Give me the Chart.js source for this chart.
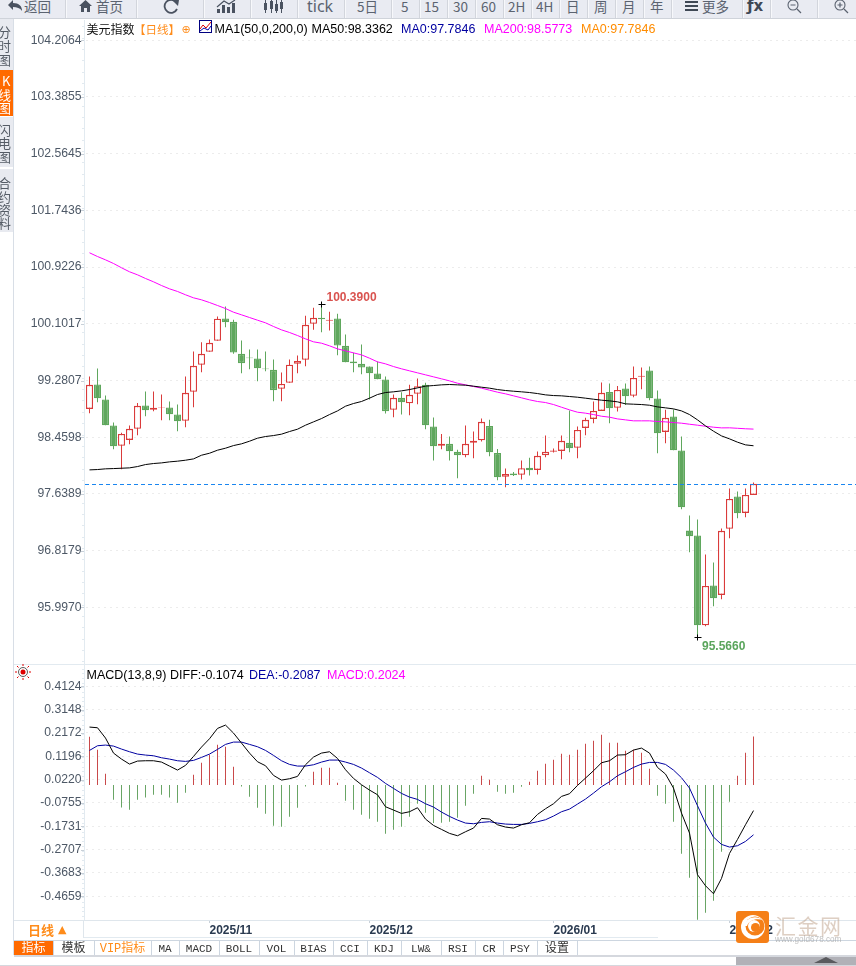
<!DOCTYPE html>
<html>
<head>
<meta charset="utf-8">
<title>美元指数</title>
<script src="https://cdn.jsdelivr.net/npm/chart.js@4"></script>
<style>
html, body { margin: 0; padding: 0; width: 856px; height: 966px; overflow: hidden; background: #fff; }
body { position: relative; font-family: "Liberation Sans", "Noto Sans CJK SC", sans-serif; }
canvas { position: absolute; left: 0; }
.txt { position: absolute; white-space: nowrap; }
.box { position: absolute; }
</style>
</head>
<body>
<canvas id="price" width="862" height="664" style="top:0;width:862px;height:664px"></canvas>
<canvas id="macd" width="862" height="274" style="top:664px;width:862px;height:274px"></canvas>
<div id="ui"></div>
<script>
// ---- data ----
var openPrices = [98.870,99.223,99.006,98.629,98.335,98.421,98.581,98.919,98.856,98.890,98.890,98.788,98.697,99.117,99.508,99.696,99.855,100.179,100.130,99.667,99.614,99.599,99.454,99.435,99.160,99.247,99.522,99.580,100.101,100.188,100.145,100.179,99.783,99.556,99.522,99.483,99.382,99.295,98.856,99.030,98.952,99.088,99.218,98.615,98.335,98.364,98.248,98.199,98.378,98.417,98.624,98.233,97.886,97.934,97.915,98.016,97.987,98.199,98.248,98.262,98.378,98.306,98.595,98.725,98.841,99.116,98.885,99.165,99.059,99.334,99.425,99.020,98.537,98.759,98.267,97.108,97.036,95.738,96.312,96.177,97.133,97.601,97.364,97.625];
var closePrices = [99.218,99.025,98.634,98.330,98.508,98.581,98.914,98.851,98.885,98.899,98.793,98.692,99.102,99.493,99.667,99.826,100.174,100.125,99.686,99.532,99.604,99.459,99.445,99.141,99.232,99.508,99.565,100.087,100.188,100.169,100.159,99.787,99.546,99.532,99.469,99.387,99.300,98.837,99.030,98.967,99.073,99.199,98.634,98.330,98.364,98.257,98.199,98.364,98.407,98.682,98.243,97.881,97.929,97.910,98.011,97.982,98.190,98.248,98.267,98.407,98.301,98.566,98.711,98.841,99.102,98.880,99.145,99.054,99.319,99.348,99.025,98.518,98.740,98.272,97.446,97.026,95.738,96.307,96.129,97.104,97.567,97.359,97.625,97.7846];
var highPrices = [99.339,99.454,99.063,98.672,98.523,98.629,98.957,99.121,99.121,99.078,98.977,98.933,99.339,99.701,99.836,99.874,100.207,100.352,100.159,99.860,99.730,99.730,99.701,99.585,99.397,99.585,99.643,100.217,100.333,100.390,100.275,100.246,99.947,99.681,99.802,99.483,99.556,99.339,99.078,99.112,99.218,99.310,99.247,98.745,98.508,98.470,98.277,98.629,98.542,98.730,98.711,98.291,98.006,97.958,98.122,98.161,98.253,98.484,98.296,98.484,98.846,98.614,98.740,98.976,99.252,99.237,99.203,99.237,99.483,99.469,99.483,99.136,98.856,98.861,98.470,97.326,97.268,96.761,96.645,97.137,97.717,97.673,97.717,97.804];
var lowPrices = [98.808,98.967,98.634,98.286,97.997,98.359,98.489,98.764,98.837,98.706,98.706,98.547,98.605,98.895,99.401,99.696,99.855,100.053,99.667,99.387,99.445,99.271,99.416,98.981,98.981,99.247,99.387,99.488,100.014,99.981,100.005,99.648,99.546,99.401,99.372,99.006,99.300,98.803,98.750,98.788,98.779,98.938,98.576,98.122,98.286,98.122,97.866,98.170,98.156,98.397,98.185,97.837,97.736,97.900,97.847,97.905,97.919,98.170,98.238,98.141,98.243,98.156,98.489,98.663,98.841,98.663,98.832,98.928,99.039,99.155,98.996,98.228,98.373,98.272,97.417,96.795,95.566,95.723,96.013,96.114,96.997,97.287,97.301,97.625];
var ma50 = [97.987,97.992,98.002,98.006,98.011,98.016,98.035,98.064,98.079,98.088,98.103,98.113,98.127,98.146,98.199,98.228,98.272,98.301,98.339,98.364,98.402,98.446,98.470,98.484,98.504,98.542,98.576,98.634,98.682,98.730,98.788,98.841,98.909,98.948,98.977,99.025,99.078,99.107,99.117,99.131,99.150,99.174,99.199,99.208,99.218,99.223,99.218,99.213,99.199,99.184,99.170,99.150,99.136,99.126,99.117,99.107,99.092,99.073,99.063,99.059,99.049,99.039,99.025,99.010,98.996,98.986,98.972,98.943,98.938,98.933,98.923,98.899,98.885,98.870,98.841,98.788,98.711,98.624,98.547,98.479,98.436,98.388,98.349,98.3362];
var ma200 = [101.130,101.076,101.028,100.975,100.913,100.855,100.811,100.758,100.710,100.656,100.608,100.570,100.522,100.478,100.449,100.410,100.367,100.323,100.270,100.232,100.193,100.154,100.116,100.063,100.014,99.976,99.932,99.884,99.841,99.821,99.783,99.739,99.710,99.681,99.652,99.604,99.551,99.522,99.483,99.450,99.421,99.392,99.363,99.334,99.305,99.276,99.242,99.218,99.194,99.170,99.141,99.112,99.088,99.059,99.030,99.001,98.977,98.962,98.933,98.894,98.856,98.822,98.808,98.788,98.764,98.750,98.725,98.711,98.697,98.697,98.697,98.687,98.682,98.672,98.663,98.648,98.634,98.619,98.605,98.595,98.596,98.589,98.582,98.5773];
var diffValues = [0.2419,0.2391,0.1959,0.1331,0.1080,0.0871,0.0997,0.1011,0.1011,0.0955,0.0788,0.0620,0.0816,0.1192,0.1582,0.1931,0.2363,0.2502,0.2168,0.1749,0.1331,0.0969,0.0802,0.0397,0.0202,0.0258,0.0355,0.0843,0.1164,0.1331,0.1387,0.1108,0.0634,0.0272,0.0007,-0.0216,-0.0411,-0.0913,-0.1052,-0.1192,-0.1122,-0.0955,-0.1429,-0.1694,-0.1861,-0.2028,-0.2126,-0.1959,-0.1805,-0.1401,-0.1429,-0.1666,-0.1763,-0.1805,-0.1666,-0.1582,-0.1234,-0.0997,-0.0788,-0.0481,-0.0369,-0.0021,0.0286,0.0592,0.0927,0.1011,0.1248,0.1262,0.1457,0.1540,0.1331,0.0732,0.0453,-0.0132,-0.1178,-0.2014,-0.3757,-0.4217,-0.4552,-0.3910,-0.2865,-0.2279,-0.1666,-0.1074];
var deaValues = [0.1443,0.1638,0.1666,0.1624,0.1499,0.1387,0.1289,0.1248,0.1220,0.1136,0.1080,0.1011,0.0983,0.1025,0.1150,0.1289,0.1485,0.1694,0.1791,0.1791,0.1694,0.1596,0.1443,0.1234,0.1011,0.0857,0.0788,0.0788,0.0843,0.0955,0.1039,0.1039,0.0955,0.0857,0.0704,0.0509,0.0314,0.0063,-0.0146,-0.0355,-0.0509,-0.0606,-0.0788,-0.0927,-0.1136,-0.1317,-0.1471,-0.1596,-0.1624,-0.1568,-0.1540,-0.1596,-0.1638,-0.1652,-0.1652,-0.1610,-0.1540,-0.1457,-0.1303,-0.1122,-0.1011,-0.0802,-0.0592,-0.0342,-0.0077,0.0132,0.0383,0.0551,0.0732,0.0871,0.0941,0.0941,0.0857,0.0620,0.0300,-0.0132,-0.0871,-0.1596,-0.2182,-0.2488,-0.2600,-0.2544,-0.2363,-0.2087];
var macdBars = [0.2014,0.1471,0.0467,-0.0620,-0.0941,-0.1039,-0.0620,-0.0523,-0.0411,-0.0411,-0.0523,-0.0746,-0.0328,0.0425,0.0927,0.1262,0.1680,0.1596,0.0760,-0.0063,-0.0495,-0.0955,-0.1206,-0.1708,-0.1749,-0.1331,-0.0955,-0.0063,0.0551,0.0718,0.0718,0.0091,-0.0662,-0.1039,-0.1248,-0.1415,-0.1540,-0.2042,-0.1875,-0.1749,-0.1331,-0.0788,-0.1164,-0.1596,-0.1582,-0.1540,-0.1373,-0.0871,-0.0369,0.0383,0.0216,-0.0286,-0.0369,-0.0328,-0.0077,0.0132,0.0592,0.0885,0.1052,0.1303,0.1262,0.1471,0.1722,0.1847,0.2098,0.1763,0.1763,0.1429,0.1471,0.1345,0.0676,-0.0453,-0.0788,-0.1540,-0.2879,-0.3882,-0.5639,-0.5346,-0.4844,-0.2795,-0.0704,0.0383,0.1345,0.2024];

var priceTicks = [104.2064,103.3855,102.5645,101.7436,100.9226,100.1017,99.2807,98.4598,97.6389,96.8179,95.9970];
var macdTicks = [0.4124,0.3148,0.2172,0.1196,0.0220,-0.0755,-0.1731,-0.2707,-0.3683,-0.4659];
var monthLabels = ['2025/11','2025/12','2026/01','2026/02'];
var monthIndex = [15,35,58,80];
var lastPrice = 97.7846;
var highIndex = 29, highValue = 100.39;
var lowIndex = 76, lowValue = 95.566;

// ---- colours ----
var RED = '#da3b3b';
var GREEN = '#5fa75d';
var AXIS_TEXT = '#4d5866';
var GRID = '#ececec';

// blank slots on the right so each candle gets an 8px slot
var categories = [];
for (var i = 0; i < 97; i++) categories.push(i < openPrices.length ? String(i) : '');

var wickData = [], bodyData = [], wickColors = [], bodyFill = [], bodyBorder = [];
openPrices.forEach(function (o, i) {
    var up = closePrices[i] >= o;
    wickData.push([lowPrices[i], highPrices[i]]);
    bodyData.push([o, closePrices[i]]);
    wickColors.push(up ? RED : GREEN);
    bodyFill.push(up ? '#ffffff' : GREEN);
    bodyBorder.push(up ? RED : GREEN);
});

var histData = macdBars.map(function (v) { return [0, v]; });
var histColors = macdBars.map(function (v) { return v >= 0 ? '#c9494a' : '#69a565'; });

function yAxis(min, max, ticks) {
    return {
        min: min,
        max: max,
        afterBuildTicks: function (scale) {
            scale.ticks = ticks.map(function (v) { return { value: v }; });
        },
        afterFit: function (scale) {
            scale.width = 85.5;
            scale.paddingTop = 0;
            scale.paddingBottom = 0;
        },
        border: { display: false, dash: [2, 4] },
        grid: { color: GRID, drawTicks: false },
        ticks: {
            color: AXIS_TEXT,
            padding: 4,
            autoSkip: false,
            font: { family: '"Liberation Sans"', size: 12.2 },
            callback: function (v) { return v.toFixed(4); }
        }
    };
}

// axis line and the little ticks along it
function drawAxisDecor(chart, ticks) {
    var ctx = chart.ctx, area = chart.chartArea, s = chart.scales.y;
    ctx.save();
    ctx.fillStyle = '#e2eaf0';
    ctx.fillRect(84, area.top, 1, area.bottom - area.top);
    var step = s.getPixelForValue(ticks[1]) - s.getPixelForValue(ticks[0]);
    for (var y = s.getPixelForValue(ticks[0]) % (step / 5) + area.top; y < area.bottom; y += step / 5) {
        ctx.fillRect(82, Math.round(y), 2, 1);
    }
    ctx.fillStyle = '#c8d0d8';
    ticks.forEach(function (v) {
        ctx.fillRect(81, Math.round(s.getPixelForValue(v)), 3, 1);
    });
    ctx.restore();
}

var priceDecor = {
    id: 'priceDecor',
    afterDatasetsDraw: function (chart) {
        var ctx = chart.ctx, x = chart.scales.x, y = chart.scales.y;
        drawAxisDecor(chart, priceTicks);
        ctx.save();
        // last price line
        ctx.strokeStyle = '#1a86f0';
        ctx.lineWidth = 1;
        ctx.setLineDash([4, 3]);
        var py = Math.round(y.getPixelForValue(lastPrice)) + 0.5;
        ctx.beginPath();
        ctx.moveTo(85, py);
        ctx.lineTo(856, py);
        ctx.stroke();
        ctx.setLineDash([]);
        // peak markers
        ctx.strokeStyle = '#000';
        [[highIndex, highValue], [lowIndex, lowValue]].forEach(function (m) {
            var mx = Math.floor(x.getPixelForValue(m[0])) + 0.5;
            var my = Math.round(y.getPixelForValue(m[1])) + 0.5;
            ctx.beginPath();
            ctx.moveTo(mx - 3, my);
            ctx.lineTo(mx + 4, my);
            ctx.moveTo(mx, my - 3);
            ctx.lineTo(mx, my + 3);
            ctx.stroke();
        });
        ctx.font = 'bold 12px "Liberation Sans"';
        ctx.textBaseline = 'middle';
        ctx.fillStyle = '#d9534f';
        ctx.fillText(highValue.toFixed(4), x.getPixelForValue(highIndex) + 5, y.getPixelForValue(highValue) - 6);
        ctx.fillStyle = '#5aa55c';
        ctx.fillText(lowValue.toFixed(4), x.getPixelForValue(lowIndex) + 4.5, y.getPixelForValue(lowValue) + 10);
        ctx.restore();
    }
};

var priceChart = new Chart(document.getElementById('price'), {
    type: 'bar',
    data: {
        labels: categories,
        datasets: [
            { type: 'line', data: ma50, borderColor: '#000000', borderWidth: 1, pointRadius: 0, tension: 0, order: 1 },
            { type: 'line', data: ma200, borderColor: '#ff00ff', borderWidth: 1, pointRadius: 0, tension: 0, order: 2 },
            { data: bodyData, backgroundColor: bodyFill, borderColor: bodyBorder, borderWidth: 1.3, borderSkipped: false, barThickness: 7, grouped: false, inflateAmount: 0, order: 3 },
            { data: wickData, backgroundColor: wickColors, barThickness: 1, grouped: false, inflateAmount: 0, order: 4 }
        ]
    },
    options: {
        responsive: false,
        devicePixelRatio: 1,
        animation: false,
        events: [],
        layout: { padding: { top: 20, right: 0.5 } },
        plugins: { legend: { display: false }, tooltip: { enabled: false } },
        scales: {
            x: { display: false, offset: true },
            y: yAxis(95.1765, 104.5003, priceTicks)
        }
    },
    plugins: [priceDecor]
});

var macdDecor = {
    id: 'macdDecor',
    afterDatasetsDraw: function (chart) {
        drawAxisDecor(chart, macdTicks);
    }
};

var macdChart = new Chart(document.getElementById('macd'), {
    type: 'bar',
    data: {
        labels: categories,
        datasets: [
            { type: 'line', data: diffValues, borderColor: '#000000', borderWidth: 1, pointRadius: 0, tension: 0, order: 1 },
            { type: 'line', data: deaValues, borderColor: '#0000a0', borderWidth: 1, pointRadius: 0, tension: 0, order: 2 },
            { data: histData, backgroundColor: histColors, barThickness: 1, grouped: false, inflateAmount: 0, order: 3 }
        ]
    },
    options: {
        responsive: false,
        devicePixelRatio: 1,
        animation: false,
        events: [],
        layout: { padding: { top: 1, right: 0.5 } },
        plugins: { legend: { display: false }, tooltip: { enabled: false } },
        scales: {
            x: {
                offset: true,
                afterBuildTicks: function (scale) {
                    scale.ticks = monthIndex.map(function (v) { return { value: v }; });
                },
                afterFit: function (scale) {
                    scale.height = 18;
                    scale.paddingLeft = 0;
                    scale.paddingRight = 0;
                },
                border: { display: false },
                grid: { drawOnChartArea: false, offset: false, tickLength: 3, color: '#c8d0d8' },
                ticks: {
                    autoSkip: false,
                    maxRotation: 0,
                    align: 'start',
                    padding: 0,
                    color: '#2a3a50',
                    font: { family: '"Liberation Sans"', size: 12, weight: 'bold' },
                    callback: function (v, idx) { return monthLabels[idx]; }
                }
            },
            y: yAxis(-0.5650, 0.5015, macdTicks)
        }
    },
    plugins: [macdDecor]
});

// ---- page chrome around the charts ----
var ui = document.getElementById('ui');

function addBox(x, y, w, h, color) {
    var d = document.createElement('div');
    d.className = 'box';
    d.style.cssText = 'left:' + x + 'px;top:' + y + 'px;width:' + w + 'px;height:' + h + 'px;background:' + color;
    ui.appendChild(d);
    return d;
}

function addText(x, cy, text, style, parent) {
    var d = document.createElement('span');
    d.className = 'txt';
    d.textContent = text;
    d.style.cssText = 'left:' + x + 'px;top:' + (cy - 10) + 'px;line-height:20px;font-size:12.5px;' + (style || '');
    (parent || ui).appendChild(d);
    return d;
}

// toolbar
var toolbar = addBox(0, 0, 856, 18, '#e9ebf2');
toolbar.style.overflow = 'hidden';
addBox(0, 18, 856, 1, '#cfd3da');
[65, 136, 203, 250, 297, 344, 391, 419, 447, 475, 503, 531, 559, 587, 615, 643, 671, 742, 770, 817].forEach(function (x) {
    addBox(x, 0, 1, 18, '#d2d5dc');
    addBox(x + 1, 0, 1, 18, '#f7f8fb');
});
var toolbarItems = [
    ['返回', 24], ['首页', 96], ['5日', 357], ['5', 401], ['15', 424], ['30', 453], ['60', 481],
    ['2H', 508], ['4H', 536], ['日', 566], ['周', 594], ['月', 622], ['年', 650], ['更多', 702]
];
toolbarItems.forEach(function (t) {
    addText(t[1], 5.5, t[0], 'font-size:13.5px;color:#5b6370;font-family:"Noto Sans CJK SC"', toolbar);
});
addText(307, 6, 'tick', 'font-size:16px;color:#5b6370;font-family:"Noto Sans"', toolbar);

var icons = document.createElementNS('http://www.w3.org/2000/svg', 'svg');
icons.setAttribute('width', 856);
icons.setAttribute('height', 18);
icons.style.cssText = 'position:absolute;left:0;top:0';
icons.innerHTML =
    '<path d="M8 5 L13 0 V3 C19 3 22 6 22 11 C20 8 17 7 13 7 V10 Z" fill="#4a5260"/>' +
    '<path d="M79 6 L85.5 0 L92 6 H90 V12 H87 V8 H84 V12 H81 V6 Z" fill="#4a5260"/>' +
    '<path d="M176 2 A6.5 6.5 0 1 0 177 9" fill="none" stroke="#4a5260" stroke-width="1.8"/><path d="M172 0 L179 0 L178 6 Z" fill="#4a5260"/>' +
    '<path d="M217 13 V9 H220 V13 Z M222 13 V5 H225 V13 Z M227 13 V7 H230 V13 Z M232 13 V3 H235 V13 Z" fill="#4a5260"/><path d="M217 7 L224 1 L229 4 L235 0" fill="none" stroke="#4a5260" stroke-width="1.2"/>' +
    '<path d="M264 3 H267 V10 H264 Z M270 1 H273 V9 H270 Z M275 4 H278 V11 H275 Z M280 2 H283 V9 H280 Z" fill="#4a5260"/><path d="M265.5 0 V13 M271.5 0 V13 M276.5 0 V13 M281.5 0 V13" stroke="#4a5260" stroke-width="1"/>' +
    '<path d="M685 1 H698 V3 H685 Z M685 5 H698 V7 H685 Z M685 9 H698 V11 H685 Z" fill="#3f4855"/>' +
    '<circle cx="793" cy="5" r="5" fill="none" stroke="#5b6370" stroke-width="1.1"/><path d="M790.5 5 H795.5 M797 9 L801 13" stroke="#5b6370" stroke-width="1.2"/>' +
    '<circle cx="840" cy="5" r="5" fill="none" stroke="#5b6370" stroke-width="1.1"/><path d="M837.5 5 H842.5 M840 2.5 V7.5 M844 9 L848 13" stroke="#5b6370" stroke-width="1.2"/>';
toolbar.appendChild(icons);
addText(747, 6, 'ƒx', 'font-size:15px;font-weight:bold;color:#3f4855;font-family:"DejaVu Sans"', toolbar);

// left side tabs
addBox(0, 19, 13, 51, '#e8eaf0');
addBox(0, 70, 13, 46, '#ff6a00');
addBox(0, 117, 13, 50, '#e8eaf0');
addBox(0, 169, 13, 63, '#e8eaf0');
addBox(13, 19, 1, 936, '#d8dee6');
var sideTabs = [
    [['分', 32], ['时', 46], ['图', 60]],
    [['K', 81], ['线', 95], ['图', 108]],
    [['闪', 130], ['电', 143], ['图', 157]],
    [['合', 183], ['约', 197], ['资', 210], ['料', 223]]
];
sideTabs.forEach(function (tab, n) {
    tab.forEach(function (c) {
        addText(c[0] === 'K' ? 2 : -2, c[1], c[0], 'font-size:13px;font-family:"Noto Sans CJK SC";color:' + (n === 1 ? '#fff' : '#555c66'));
    });
});

// price legend
var CJK = 'font-family:"Noto Sans CJK SC";';
addText(86.5, 29, '美元指数', CJK + 'font-size:12px;color:#111');
addText(134, 29, '【日线】', CJK + 'font-size:11.5px;color:#ff8c1a');
addText(181.5, 29.5, '⊕', 'font-family:"DejaVu Sans";font-size:11px;color:#ff8c1a');
var maIcon = addBox(199, 20, 11, 11, '#fff');
maIcon.style.border = '1px solid #000080';
maIcon.innerHTML = '<svg width="11" height="11" style="display:block"><path d="M0 8 L3 4 L6 7 L11 1" stroke="#d00" fill="none"/><path d="M0 10 L4 7 L8 9 L11 5" stroke="#00a" fill="none"/></svg>';
addText(214.5, 29, 'MA1(50,0,200,0)', 'color:#000');
addText(311.5, 29, 'MA50:98.3362', 'color:#000');
addText(401, 29, 'MA0:97.7846', 'color:#0000a0');
addText(484, 29, 'MA200:98.5773', 'color:#ff00ff');
addText(581, 29, 'MA0:97.7846', 'color:#ff8c00');

// macd legend
addBox(14, 664, 842, 1, '#e2eaf0');
addText(86.5, 674.5, 'MACD(13,8,9)', 'color:#000');
addText(170, 674.5, 'DIFF:-0.1074', 'color:#000');
addText(249, 674.5, 'DEA:-0.2087', 'color:#0000a0');
addText(327, 674.5, 'MACD:0.2024', 'color:#ff00ff');
var sun = document.createElementNS('http://www.w3.org/2000/svg', 'svg');
sun.setAttribute('width', 16);
sun.setAttribute('height', 16);
sun.style.cssText = 'position:absolute;left:15px;top:664px';
sun.innerHTML = '<circle cx="8" cy="8" r="2.5" fill="#e00000"/><circle cx="8" cy="8" r="4.5" fill="none" stroke="#333" stroke-width="0.8"/><path d="M8 0 V2 M8 14 V16 M0 8 H2 M14 8 H16 M2 2 L3.5 3.5 M14 2 L12.5 3.5 M2 14 L3.5 12.5 M14 14 L12.5 12.5" stroke="#e00000"/>';
ui.appendChild(sun);

// bottom of chart
addBox(84, 920, 772, 1, '#dfe6ec');
addBox(84, 937, 574, 1, '#e2eaf0');
addBox(83, 921, 1, 17, '#dfe6ec');
addBox(14, 920, 70, 1, '#dfe6ec');
addText(28, 929.5, '日线', CJK + 'font-size:13px;font-weight:bold;color:#ff8c1a');
addText(58, 929.5, '▲', 'font-family:"DejaVu Sans";font-size:11px;color:#ff8c1a');

// indicator tabs
addBox(14, 940, 842, 1, '#cdd6e0');
addBox(14, 955, 842, 2, '#d5d8de');
addBox(0, 965, 856, 1, '#d5d8de');
var tabNames = ['指标', '模板', 'VIP指标', 'MA', 'MACD', 'BOLL', 'VOL', 'BIAS', 'CCI', 'KDJ', 'LW&', 'RSI', 'CR', 'PSY', '设置'];
var tabEdges = [14, 53, 94, 151, 179, 219, 259, 294, 333, 367, 401, 441, 475, 503, 537, 577];
addBox(14, 941, 39, 14, '#ff6a00');
tabNames.forEach(function (name, n) {
    var color = n === 0 ? '#fff' : (n === 2 ? '#ff8c1a' : '#333');
    var mid = (tabEdges[n] + tabEdges[n + 1]) / 2;
    var t = addText(mid, 949, name, 'transform:translateX(-50%);font-size:11px;font-family:"Liberation Mono","Noto Sans CJK SC";color:' + color);
    if (/[\u4e00-\u9fff]/.test(name)) t.style.fontSize = '12px';
    addBox(tabEdges[n + 1], 941, 1, 14, '#cdd6e0');
});

// scrollbar
addBox(736, 957, 120, 8, '#b1b1b7');
var tri = addBox(814, 957, 24, 6, '#5a5a5e');
tri.style.clipPath = 'polygon(50% 0, 100% 100%, 0 100%)';

// site logo
var logo = addBox(736, 911, 33, 32, '#f57f17');
logo.style.borderRadius = '3px';
logo.innerHTML = '<svg width="33" height="32" style="display:block"><circle cx="17" cy="16" r="12" fill="#fff"/><circle cx="19" cy="15" r="9.5" fill="#f57f17"/><path d="M8 15 C10 6 20 4 27 9 C20 7 13 9 11 15 Z" fill="#fff"/><circle cx="18" cy="15" r="6" fill="#fff"/><circle cx="19.5" cy="16.5" r="4.5" fill="#f57f17"/></svg>';
addText(775, 924.5, '汇金网', CJK + 'font-size:21px;letter-spacing:1.5px;color:rgba(190,160,135,.5)');
addText(775, 940, 'www.gold678.com', 'font-size:8.2px;color:rgba(170,170,170,.75)');
</script>
</body>
</html>
